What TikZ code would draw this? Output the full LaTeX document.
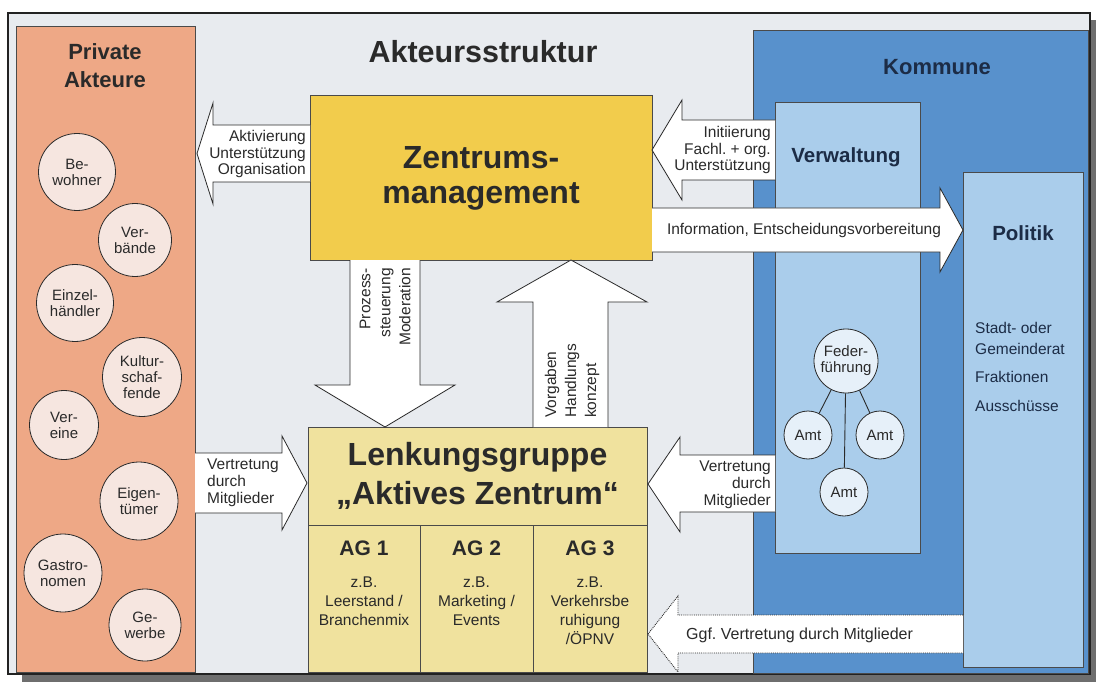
\documentclass[tikz,border=0pt]{standalone}
\usepackage{fontspec}
\setmainfont{Liberation Sans}
\usetikzlibrary{calc}
\definecolor{bgc}{HTML}{E8EBEF}
\definecolor{shadowc}{HTML}{6E6E6E}
\definecolor{framec}{HTML}{222222}
\definecolor{salmon}{HTML}{EEA886}
\definecolor{pinkc}{HTML}{F6E6E0}
\definecolor{gold}{HTML}{F2CC4C}
\definecolor{paley}{HTML}{F0E29E}
\definecolor{kblue}{HTML}{5891CC}
\definecolor{lblue}{HTML}{AACDEB}
\definecolor{navy}{HTML}{1C2C46}
\definecolor{ink}{HTML}{2A2A2A}
\newcommand{\fsz}[2]{\fontsize{#1}{#2}\selectfont}
\begin{document}
\begin{tikzpicture}[x=1pt,y=-1pt,
  area/.style={draw=ink!85, line width=0.9, inner sep=0, outer sep=0},
  pcirc/.style={circle, draw=ink, line width=0.8, fill=pinkc, minimum size=#1, inner sep=0, align=center, font=\fsz{15}{16}, text=ink},
  acirc/.style={circle, draw=ink, line width=0.8, fill=white!70!lblue, minimum size=#1, inner sep=0, align=center, font=\fsz{15}{16}, text=ink},
  barrow/.style={draw=ink, line width=0.8, fill=white, line join=miter},
  dotarrow/.style={draw=ink, line width=0.9, densely dotted},
  atext/.style={inner sep=0, font=\fsz{15.5}{16.8}, text=ink},
  vtext/.style={inner sep=0, font=\fsz{15.5}{20}, text=ink, rotate=90},
  bigt/.style={inner sep=0, font=\fsz{32}{35}\bfseries, text=ink, align=center},
  midt/.style={inner sep=0, font=\fsz{22}{28}\bfseries, align=center},
  agt/.style={inner sep=0, font=\fsz{21}{24}\bfseries, text=ink},
  agsub/.style={inner sep=0, font=\fsz{15.5}{19}, text=ink, align=center},
  plist/.style={inner sep=0, font=\fsz{15.5}{18}, text=navy, anchor=west}]
\useasboundingbox (0,0) rectangle (1096,682);
% shadow and frame
\fill[shadowc] (22,20) rectangle (1096,682);
\draw[line width=2, draw=framec, fill=bgc] (8,13) rectangle (1090,674);

% Private Akteure
\node[area, fill=salmon, minimum width=179, minimum height=646] (pa) at (105.5,349) {};
\node[midt, text=ink] (patitle) at (105,66) {Private\\Akteure};
\node[pcirc=77] (bew) at (77,172) {Be-\\wohner};
\node[pcirc=73] (verb) at (135,240) {Ver-\\bände};
\node[pcirc=77] (einz) at (75,303) {Einzel-\\händler};
\node[pcirc=79] (kult) at (142,377) {Kultur-\\schaf-\\fende};
\node[pcirc=69] (vere) at (64,425) {Ver-\\eine};
\node[pcirc=78] (eig) at (139,501) {Eigen-\\tümer};
\node[pcirc=78] (gast) at (63,573) {Gastro-\\nomen};
\node[pcirc=72] (gew) at (145,625) {Ge-\\werbe};

% Kommune
\node[area, fill=kblue, minimum width=335, minimum height=643] (ko) at (920.5,351.5) {};
\node[midt, text=navy] (kotitle) at (937,67) {Kommune};
\node[area, fill=lblue, minimum width=145, minimum height=451] (vw) at (847.5,327.5) {};
\node[midt, font=\fsz{20.5}{24}\bfseries, text=navy] (vwtitle) at (846,157) {Verwaltung};
\node[area, fill=lblue, minimum width=120, minimum height=495] (po) at (1023,419.5) {};
\node[midt, font=\fsz{20.5}{24}\bfseries, text=navy] (potitle) at (1023,233) {Politik};
\node[plist] (p1) at (975,328) {Stadt- oder};
\node[plist] (p2) at (975,349) {Gemeinderat};
\node[plist] (p3) at (975,377) {Fraktionen};
\node[plist] (p4) at (975,406) {Ausschüsse};

% Federfuehrung and Aemter
\node[acirc=64] (fed) at (846,361) {Feder-\\führung};
\node[acirc=48] (amt1) at (808,435) {Amt};
\node[acirc=48] (amt2) at (880,435) {Amt};
\node[acirc=48] (amt3) at (844,492) {Amt};
\draw[ink, line width=0.9] (fed) -- (amt1);
\draw[ink, line width=0.9] (fed) -- (amt2);
\draw[ink, line width=0.9] (fed) -- (amt3);

% Title
\node[inner sep=0, font=\fsz{30.5}{34}\bfseries, text=ink] (title) at (483,52) {Akteursstruktur};

% Zentrumsmanagement
\node[area, fill=gold, minimum width=342, minimum height=165] (zm) at (481,177.5) {};
\node[bigt] (zmt) at (481,178) {Zentrums-\\management};

% Lenkungsgruppe and AGs
\node[area, fill=paley, minimum width=339, minimum height=98] (lg) at (477.5,476) {};
\node[bigt, font=\fsz{32}{39}\bfseries] (lgt) at (477.5,476) {Lenkungsgruppe\\„Aktives Zentrum“};
\node[area, fill=paley, minimum width=112, minimum height=147] (ag1) at (364,598.5) {};
\node[area, fill=paley, minimum width=113, minimum height=147] (ag2) at (476.5,598.5) {};
\node[area, fill=paley, minimum width=114, minimum height=147] (ag3) at (590,598.5) {};
\node[agt] (ag1t) at (364,548) {AG 1};
\node[agt] (ag2t) at (476.5,548) {AG 2};
\node[agt] (ag3t) at (590,548) {AG 3};
\node[agsub, anchor=north] (ag1s) at (364,577) {z.B.\\Leerstand /\\Branchenmix};
\node[agsub, anchor=north] (ag2s) at (476.5,577) {z.B.\\Marketing /\\Events};
\node[agsub, anchor=north] (ag3s) at (590,577) {z.B.\\Verkehrsbe\\ruhigung\\/ÖPNV};

% Block arrows
% Zentrum -> Private
\draw[barrow] (310,125) -- (213,125) -- (213,103) -- (197,153.5) -- (213,204) -- (213,182) -- (310,182);
\node[atext, anchor=east, align=right] (t1) at (306,154) {Aktivierung\\Unterstützung\\Organisation};
% Verwaltung -> Zentrum
\draw[barrow] (775,120) -- (682,120) -- (682,100) -- (652,150) -- (682,200) -- (682,180) -- (775,180);
\node[atext, anchor=east, align=right] (t2) at (771,150) {Initiierung\\Fachl.\ + org.\\Unterstützung};
% Zentrum -> Politik
\draw[barrow] (652,208) -- (940,208) -- (940,188) -- (963,230) -- (940,272) -- (940,252) -- (652,252);
\node[atext] (t3) at (804,230) {Information, Entscheidungsvorbereitung};
% Zentrum -> Lenkung (down)
\draw[barrow] (350,260) -- (350,385) -- (315,385) -- (385,427) -- (455,385) -- (420,385) -- (420,260);
\node[vtext, anchor=east, align=right] (t4) at (385,268) {Prozess-\\steuerung\\Moderation};
% Lenkung -> Zentrum (up)
\draw[barrow] (533,427) -- (533,302) -- (497,302) -- (571,260) -- (647,302) -- (608,302) -- (608,427);
\node[vtext, anchor=west, align=left] (t5) at (572,418) {Vorgaben\\Handlungs\\konzept};
% Private -> Lenkung
\draw[barrow] (195,453) -- (282,453) -- (282,436) -- (307,483) -- (282,530) -- (282,513) -- (195,513);
\node[atext, anchor=west, align=left] (t6) at (207,483) {Vertretung\\durch\\Mitglieder};
% Verwaltung -> Lenkung
\draw[barrow] (775,455) -- (680,455) -- (680,437) -- (648,484) -- (680,532) -- (680,512) -- (775,512);
\node[atext, anchor=east, align=right] (t7) at (771,485) {Vertretung\\durch\\Mitglieder};
% Politik -> AG3 (dotted)
\fill[white] (963,615) -- (678,615) -- (678,596) -- (648,634) -- (678,672) -- (678,653) -- (963,653) -- cycle;
\draw[dotarrow] (963,615) -- (678,615) -- (678,596) -- (648,634) -- (678,672) -- (678,653) -- (963,653);
\node[atext, anchor=west, font=\fsz{16}{18}] (t8) at (686,635) {Ggf.\ Vertretung durch Mitglieder};
\end{tikzpicture}
\end{document}
